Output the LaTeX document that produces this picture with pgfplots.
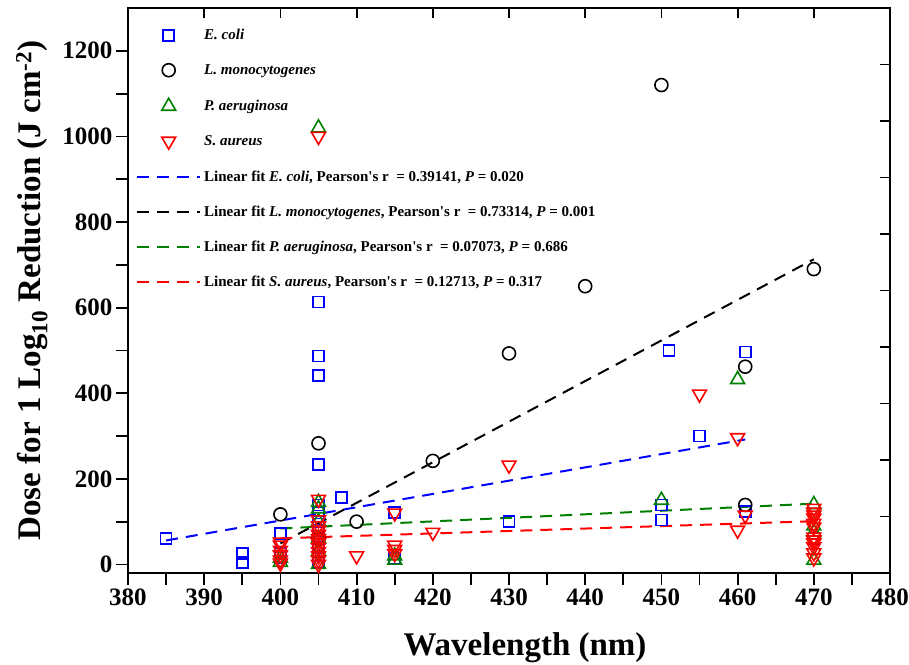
\documentclass[border=0pt]{standalone}
\usepackage{pgfplots}
\pgfplotsset{compat=1.18}
\usepackage{fontspec}
\setmainfont{Liberation Serif}
\definecolor{cblue}{RGB}{0,0,255}
\definecolor{cgreen}{RGB}{0,128,0}
\definecolor{cred}{RGB}{255,0,0}
\pgfplotsset{
  mlegend/.style={legend image code/.code={\draw[##1] plot coordinates {(31.5pt,0pt)};}},
  llegend/.style={legend image code/.code={\draw[##1] (0pt,0pt) -- (63pt,0pt);}},
}
\begin{document}
\begin{tikzpicture}
\useasboundingbox (-128pt,-91pt) rectangle (781pt,573pt);
\begin{axis}[
  scale only axis, width=762pt, height=565pt,
  xmin=380, xmax=480, ymin=-20, ymax=1300,
  clip=false,
  xtick={380,390,...,480}, minor xtick={385,395,...,475},
  ytick={0,200,...,1200}, minor ytick={100,300,...,1100},
  xtick pos=bottom, ytick pos=left, tick align=outside,
  major tick length=12pt, minor tick length=12pt,
  axis line style={line width=2pt},
  every tick/.style={line width=1.8pt, black},
  tick label style={font=\fontsize{25}{25}\selectfont\bfseries},
  /pgf/number format/assume math mode=true,
  /pgf/number format/1000 sep={},
  xlabel={Wavelength (nm)},
  ylabel={Dose for 1 Log\textsubscript{10} Reduction (J cm\textsuperscript{-2})},
  label style={font=\fontsize{33}{36}\selectfont\bfseries},
  xlabel style={at={(axis description cs:0.521,-0.133)}, anchor=center},
  ylabel style={at={(axis description cs:-0.126,0.5)}, anchor=center},
  legend style={at={(axis description cs:0.0105,0.9646)}, anchor=north west,
    draw=none, fill=none, inner sep=0pt, row sep=21pt,
    font=\fontsize{15}{15}\selectfont\bfseries,
    nodes={inner xsep=3pt, inner ysep=0pt, text height=11pt, text depth=3pt}},
  legend cell align=left,
]
% E. coli
\addplot[only marks, mark=square, mark size=5.5pt, cblue, mark options={line width=1.6pt}, mlegend] coordinates {
(385,60) (395,26) (395,5) (400,72) (400,26) (400,15)
(405,613) (405,487) (405,442) (405,234) (405,139) (405,120) (405,100) (405,80)
(405,60) (405,40) (405,20) (405,5) (408,157) (415,122) (415,15) (430,100)
(450,139) (450,104) (451,500) (455,300) (461,496) (461,123) (470,60)
};
\addlegendentry{\textit{E. coli}}
% L. monocytogenes
\addplot[only marks, mark=o, mark size=6.5pt, black, mark options={line width=1.6pt}, mlegend] coordinates {
(400,117) (405,283) (405,60) (410,100) (420,242) (430,493) (440,650)
(450,1120) (461,462) (461,139) (470,690)
};
\addlegendentry{\textit{L. monocytogenes}}
% P. aeruginosa
\addplot[only marks, mark=triangle, mark size=8pt, cgreen, mark options={line width=1.6pt}, mlegend] coordinates {
(400,15) (400,5) (405,1020) (405,145) (405,130) (405,100) (405,60) (405,30) (405,0)
(415,10) (415,20) (450,150) (460,432) (470,140) (470,90) (470,75) (470,10)
};
\addlegendentry{\textit{P. aeruginosa}}
% S. aureus
\addplot[only marks, mark=triangle, mark size=8pt, cred, mark options={line width=1.6pt, rotate=180}, mlegend] coordinates {
(400,52) (400,45) (400,33) (400,22) (400,10) (400,3)
(405,1000) (405,152) (405,104) (405,90) (405,80) (405,70) (405,60) (405,50)
(405,40) (405,30) (405,20) (405,10) (405,0)
(410,20) (415,120) (415,45) (415,35) (415,25) (420,75) (430,232)
(455,398) (460,296) (460,80) (461,115)
(470,131) (470,122) (470,115) (470,108) (470,96) (470,87) (470,64) (470,57)
(470,50) (470,41) (470,27) (470,15)
};
\addlegendentry{\textit{S. aureus}}
% fits
\addplot[no marks, cblue, line width=2pt, dash pattern=on 12pt off 8pt, llegend] coordinates {(385,56) (461,292)};
\addlegendentry{Linear fit \textit{E. coli}, Pearson\textquotesingle s r\ \ = 0.39141, \textit{P} = 0.020}
\addplot[no marks, black, line width=2pt, dash pattern=on 12pt off 8pt, llegend] coordinates {(400,49) (470,713)};
\addlegendentry{Linear fit \textit{L. monocytogenes}, Pearson\textquotesingle s r\ \ = 0.73314, \textit{P} = 0.001}
\addplot[no marks, cgreen, line width=2pt, dash pattern=on 12pt off 8pt, llegend] coordinates {(400,84) (470,142)};
\addlegendentry{Linear fit \textit{P. aeruginosa}, Pearson\textquotesingle s r\ \ = 0.07073, \textit{P} = 0.686}
\addplot[no marks, cred, line width=2pt, dash pattern=on 12pt off 8pt, llegend] coordinates {(400,61) (470,101)};
\addlegendentry{Linear fit \textit{S. aureus}, Pearson\textquotesingle s r\ \ = 0.12713, \textit{P} = 0.317}
\end{axis}
\begin{axis}[
  scale only axis, width=762pt, height=565pt,
  xmin=380, xmax=480, ymin=-20, ymax=1300,
  axis x line*=top, axis y line*=right,
  axis line style={line width=2pt, -},
  tick align=inside,
  xtick={380,390,...,480}, ytick={-20,112,...,1300},
  xticklabels={}, yticklabels={},
  major tick length=10pt,
  every tick/.style={line width=1.8pt, black},
]
\end{axis}
\end{tikzpicture}
\end{document}
